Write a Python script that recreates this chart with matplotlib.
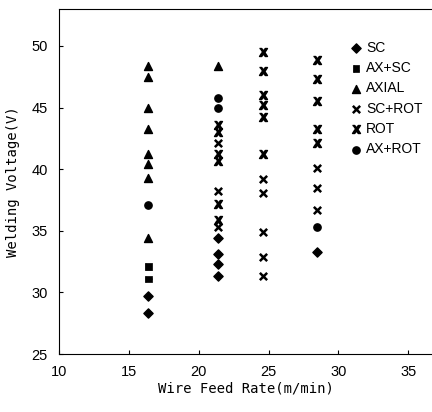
import numpy as np
import matplotlib
matplotlib.use('Agg')
import matplotlib.pyplot as plt

# wire feed rate columns (m/min)
x_cols = [16.4, 21.4, 24.6, 28.5]

# welding voltage per mode, per column
sc_x = [16.4, 16.4, 21.4, 21.4, 21.4, 21.4, 28.5]
sc_y = [29.7, 28.3, 34.4, 33.1, 32.3, 31.3, 33.3]

axsc_x = [16.4, 16.4]
axsc_y = [32.1, 31.1]

axial_x = [16.4, 16.4, 16.4, 16.4, 16.4, 16.4, 16.4, 16.4, 21.4]
axial_y = [48.4, 47.5, 45.0, 43.3, 41.2, 40.4, 39.3, 34.4, 48.4]

scrot_x = [21.4, 21.4, 21.4, 24.6, 24.6, 24.6, 24.6, 24.6, 28.5, 28.5, 28.5]
scrot_y = [42.1, 38.2, 35.3, 39.2, 38.1, 34.9, 32.9, 31.3, 40.1, 38.5, 36.7]

rot_x = [21.4, 21.4, 21.4, 21.4, 21.4, 21.4,
         24.6, 24.6, 24.6, 24.6, 24.6, 24.6,
         28.5, 28.5, 28.5, 28.5, 28.5]
rot_y = [43.6, 43.0, 41.2, 40.7, 37.2, 35.9,
         49.5, 48.0, 46.0, 45.2, 44.2, 41.2,
         48.9, 47.3, 45.5, 43.3, 42.1]

axrot_x = [16.4, 21.4, 21.4, 28.5]
axrot_y = [37.1, 45.8, 45.0, 35.3]

labels = ['SC', 'AX+SC', 'AXIAL', 'SC+ROT', 'ROT', 'AX+ROT']
x_ticks = [10, 15, 20, 25, 30, 35]
y_ticks = [25, 30, 35, 40, 45, 50]

# bowtie-like x marker for ROT
rot_marker = [(-1, 1), (-0.45, 1), (0, 0.4), (0.45, 1), (1, 1), (0.35, 0),
              (1, -1), (0.45, -1), (0, -0.4), (-0.45, -1), (-1, -1), (-0.35, 0)]

narrow = ['Liberation Sans', 'DejaVu Sans']
mono = ['DejaVu Sans Mono']

fig = plt.figure(figsize=(4.32, 4.12), dpi=100)
ax = fig.add_axes([59 / 432, 58 / 412, 1 - 59 / 432, 345 / 412])

ms = 5.5
ax.scatter(sc_x, sc_y, marker='D', s=ms * 4, c='black', label=labels[0])
ax.scatter(axsc_x, axsc_y, marker='s', s=ms * 4, c='black', label=labels[1],
           edgecolors='black', linewidths=0.5, hatch='++')
ax.scatter(axial_x, axial_y, marker='^', s=ms * 6, c='black', label=labels[2])
ax.scatter(scrot_x, scrot_y, marker='x', s=ms * 5, c='black', linewidths=1.8,
           label=labels[3])
ax.scatter(rot_x, rot_y, marker=rot_marker, s=ms * 6, c='black', label=labels[4])
ax.scatter(axrot_x, axrot_y, marker='o', s=ms * 5, c='black', label=labels[5])

ax.set_xlim(10, 36.7)
ax.set_ylim(25, 53)
ax.set_xticks(x_ticks)
ax.set_yticks(y_ticks)
ax.tick_params(direction='in', length=3, width=0.8, pad=8, labelsize=10.5)
for t in ax.get_xticklabels() + ax.get_yticklabels():
    t.set_family(narrow)
ax.spines['right'].set_visible(False)

ax.set_xlabel('Wire Feed Rate(m/min)', family=mono, fontsize=10, labelpad=2)
ax.set_ylabel('Welding Voltage(V)', family=mono, fontsize=10, labelpad=8)

leg = ax.legend(loc='upper left', bbox_to_anchor=(345 / 432, 1 - 34 / 412),
                bbox_transform=fig.transFigure, frameon=False, handlelength=0.6,
                handletextpad=0.4, labelspacing=0.45, borderpad=0,
                prop={'family': narrow, 'size': 10})

fig.savefig('out.png', dpi=100)
